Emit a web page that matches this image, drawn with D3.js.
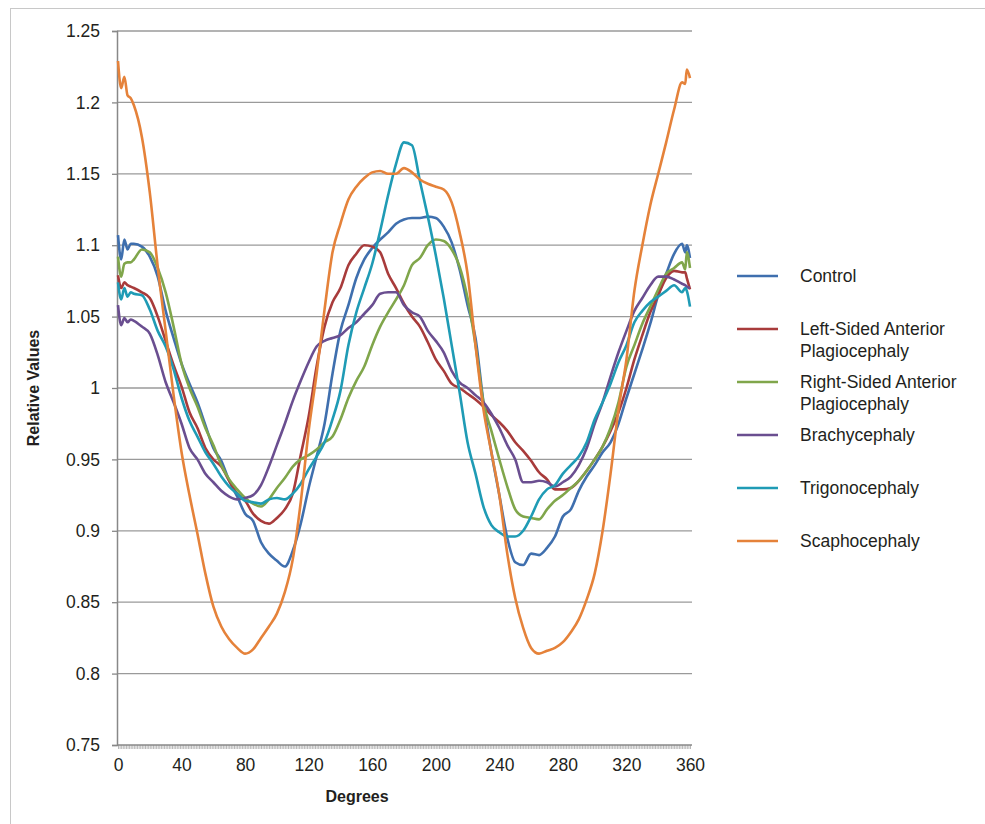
<!DOCTYPE html>
<html>
<head>
<meta charset="utf-8">
<script src="https://cdn.jsdelivr.net/npm/d3@7/dist/d3.min.js"></script>
<style>
  body { margin: 0; background: #fff; }
  svg { display: block; font-family: "Liberation Sans", Arial, sans-serif; }
</style>
</head>
<body>
<div class="svgGraphique"></div>
<script>
// angles (degrés) communs à toutes les séries
const degrees = [0, 2, 4, 6, 8, 10, 15, 20, 25, 30, 35, 40, 45, 50, 55, 60, 65, 70, 75, 80, 85, 90,
  95, 100, 105, 110, 115, 120, 125, 130, 135, 140, 145, 150, 155, 160, 165, 170, 175, 180,
  185, 190, 195, 200, 205, 210, 215, 220, 225, 230, 235, 240, 245, 250, 255, 260, 265, 270,
  275, 280, 285, 290, 295, 300, 305, 310, 315, 320, 325, 330, 335, 340, 345, 350, 355, 357, 358, 360];

const control = [1.107, 1.09, 1.104, 1.097, 1.101, 1.101, 1.099, 1.092, 1.078, 1.054, 1.035, 1.017, 1.003, 0.99, 0.974, 0.958, 0.949, 0.935, 0.924, 0.912, 0.907, 0.892,
  0.884, 0.879, 0.875, 0.886, 0.905, 0.93, 0.952, 0.975, 1.01, 1.04, 1.058, 1.077, 1.09, 1.098, 1.104, 1.109, 1.115, 1.118,
  1.119, 1.119, 1.12, 1.119, 1.113, 1.102, 1.083, 1.058, 1.035, 0.99, 0.955, 0.925, 0.895, 0.878, 0.876, 0.884, 0.883, 0.888,
  0.896, 0.91, 0.915, 0.928, 0.938, 0.946, 0.955, 0.962, 0.975, 0.993, 1.01, 1.027, 1.045, 1.065, 1.08, 1.094, 1.101, 1.095, 1.1, 1.091];

const leftSided = [1.079, 1.07, 1.074, 1.072, 1.071, 1.07, 1.067, 1.063, 1.05, 1.033, 1.016, 1.001, 0.983, 0.972, 0.958, 0.95, 0.945, 0.935, 0.926, 0.921, 0.912, 0.907,
  0.905, 0.909, 0.915, 0.926, 0.953, 0.98, 1.015, 1.043, 1.06, 1.07, 1.086, 1.094, 1.1, 1.099, 1.095, 1.08, 1.07, 1.059,
  1.05, 1.043, 1.032, 1.02, 1.012, 1.003, 1.0, 0.996, 0.992, 0.987, 0.981, 0.976, 0.97, 0.962, 0.956, 0.949, 0.941, 0.936,
  0.929, 0.929, 0.93, 0.935, 0.942, 0.95, 0.959, 0.97, 0.983, 1.0, 1.02, 1.037, 1.053, 1.065, 1.077, 1.082, 1.081, 1.081, 1.077, 1.069];

const rightSided = [1.092, 1.078, 1.087, 1.088, 1.088, 1.09, 1.097, 1.095, 1.084, 1.067, 1.043, 1.017, 1.0, 0.987, 0.972, 0.96, 0.946, 0.936, 0.929, 0.923, 0.919, 0.917,
  0.922, 0.93, 0.937, 0.945, 0.95, 0.953, 0.957, 0.962, 0.966, 0.978, 0.993, 1.005, 1.015, 1.03, 1.043, 1.053, 1.062, 1.072,
  1.086, 1.091, 1.1, 1.104, 1.103, 1.097, 1.085, 1.063, 1.03, 0.99, 0.97, 0.95, 0.931, 0.915, 0.91, 0.909, 0.908, 0.915,
  0.921, 0.925, 0.93, 0.935, 0.942, 0.95, 0.959, 0.972, 0.99, 1.015, 1.03, 1.045, 1.057, 1.069, 1.08, 1.084, 1.088, 1.083, 1.095, 1.084];

const brachy = [1.058, 1.044, 1.049, 1.046, 1.048, 1.047, 1.043, 1.038, 1.023, 1.004, 0.99, 0.975, 0.958, 0.95, 0.94, 0.934, 0.928, 0.924, 0.922, 0.923, 0.925, 0.932,
  0.945, 0.96, 0.975, 0.991, 1.005, 1.018, 1.029, 1.033, 1.035, 1.037, 1.042, 1.046, 1.052, 1.058, 1.066, 1.067, 1.067, 1.058,
  1.053, 1.05, 1.04, 1.033, 1.025, 1.012, 1.004, 1.0, 0.995, 0.99, 0.982, 0.972, 0.96, 0.95, 0.934, 0.934, 0.935, 0.934,
  0.931, 0.934, 0.938, 0.946, 0.958, 0.975, 0.99, 1.008, 1.025, 1.04, 1.054, 1.063, 1.072, 1.078, 1.078, 1.076, 1.073, 1.072, 1.071, 1.07];

const trigono = [1.074, 1.062, 1.07, 1.064, 1.067, 1.066, 1.065, 1.055, 1.04, 1.029, 1.013, 0.993, 0.977, 0.966, 0.955, 0.947, 0.938, 0.931, 0.926, 0.921, 0.92, 0.919,
  0.922, 0.923, 0.922, 0.926, 0.933, 0.943, 0.952, 0.962, 0.978, 0.998, 1.03, 1.053, 1.07, 1.087, 1.11, 1.135, 1.157, 1.172,
  1.17, 1.145, 1.12, 1.093, 1.063, 1.03, 0.997, 0.962, 0.94, 0.917, 0.904, 0.899, 0.896, 0.896, 0.9, 0.91, 0.922, 0.929,
  0.932, 0.94, 0.946, 0.952, 0.962, 0.978, 0.99, 1.003, 1.018, 1.03, 1.046, 1.054, 1.06, 1.064, 1.068, 1.072, 1.067, 1.07, 1.068, 1.057];

const scapho = [1.229, 1.21, 1.218, 1.205, 1.203, 1.198, 1.176, 1.137, 1.085, 1.04, 0.995, 0.955, 0.925, 0.898, 0.87, 0.847, 0.833, 0.824, 0.818, 0.814, 0.817, 0.825,
  0.833, 0.842, 0.857, 0.88, 0.92, 0.97, 1.01, 1.055, 1.095, 1.115, 1.132, 1.141, 1.147, 1.151, 1.152, 1.15, 1.15, 1.154,
  1.151, 1.146, 1.143, 1.141, 1.139, 1.13, 1.109, 1.08, 1.03, 0.985, 0.955, 0.925, 0.884, 0.853, 0.832, 0.818, 0.814, 0.816,
  0.818, 0.822, 0.829, 0.838, 0.852, 0.87, 0.9, 0.94, 0.985, 1.02, 1.068, 1.1, 1.128, 1.15, 1.172, 1.195, 1.214, 1.213, 1.223, 1.217];

const seriesNames = ["Control", "Left-Sided Anterior Plagiocephaly", "Right-Sided Anterior Plagiocephaly",
  "Brachycephaly", "Trigonocephaly", "Scaphocephaly"];
const seriesValues = [control, leftSided, rightSided, brachy, trigono, scapho];
const seriesColors = ["#3f6fae", "#a83b3b", "#80a64b", "#6a4e90", "#1f9bb5", "#e5823a"];

const yTicks = [0.75, 0.8, 0.85, 0.9, 0.95, 1, 1.05, 1.1, 1.15, 1.2, 1.25];
const xTicks = [0, 40, 80, 120, 160, 200, 240, 280, 320, 360];

const width = 985;
const height = 824;

const svg = d3.create('svg')
    .attr('width', width)
    .attr('height', height)
    .attr('viewBox', `0 0 ${width} ${height}`);

// cadre gris clair
svg.append('rect')
    .attr('x', 10.5).attr('y', 8.5)
    .attr('width', 1000).attr('height', 1000)
    .attr('fill', 'none')
    .attr('stroke', '#c8c8c8')
    .attr('stroke-width', 1);

const x = d3.scaleLinear().domain([0, 360]).range([118, 690]);
const y = d3.scaleLinear().domain([0.75, 1.25]).range([745, 31]);

// grille horizontale
svg.append('g')
    .selectAll('line')
    .data(yTicks.filter(d => d > 0.75))
    .join('line')
    .attr('x1', 117).attr('x2', 692)
    .attr('y1', d => y(d)).attr('y2', d => y(d))
    .attr('stroke', '#9a9a9a')
    .attr('stroke-width', 1.3);

// axe Y
const yAxis = d3.axisLeft(y)
    .tickValues(yTicks)
    .tickSize(5)
    .tickPadding(12)
    .tickFormat(d => d3.format('')(+d.toFixed(2)));

svg.append('g')
    .attr('transform', 'translate(117,0)')
    .call(yAxis)
    .call(g => g.select('.domain').attr('stroke', '#888').attr('stroke-width', 1.5))
    .call(g => g.selectAll('.tick line').attr('stroke', '#888').attr('stroke-width', 1.3))
    .call(g => g.selectAll('.tick text').attr('fill', '#231f20').style('font-size', '17.5px'));

// axe X : petites graduations à chaque degré
svg.append('g')
    .attr('transform', `translate(0,${y(0.75)})`)
    .call(d3.axisBottom(x).tickValues(d3.range(0, 361, 1)).tickSize(4).tickFormat(''))
    .call(g => g.select('.domain').remove())
    .call(g => g.selectAll('.tick line').attr('stroke', '#999').attr('stroke-width', 0.7));

svg.append('g')
    .attr('transform', `translate(0,${y(0.75)})`)
    .call(d3.axisBottom(x).tickValues(xTicks).tickSize(0).tickPadding(14).tickFormat(d3.format('d')))
    .call(g => g.select('.domain').attr('d', 'M117,0H692').attr('stroke', '#888').attr('stroke-width', 1.5))
    .call(g => g.selectAll('.tick text').attr('fill', '#231f20').style('font-size', '17.5px'));

// titres des axes
svg.append('text')
    .attr('x', 357).attr('y', 802)
    .attr('text-anchor', 'middle')
    .style('font-size', '16px').style('font-weight', 'bold')
    .attr('fill', '#231f20')
    .text('Degrees');

svg.append('text')
    .attr('transform', 'translate(39,388) rotate(-90)')
    .attr('text-anchor', 'middle')
    .style('font-size', '16px').style('font-weight', 'bold')
    .attr('fill', '#231f20')
    .text('Relative Values');

// courbes
const line = d3.line()
    .x((d, i) => x(degrees[i]))
    .y(d => y(d))
    .curve(d3.curveMonotoneX);

svg.append('g')
    .selectAll('path')
    .data(seriesValues)
    .join('path')
    .attr('d', d => line(d))
    .attr('fill', 'none')
    .attr('stroke', (d, i) => seriesColors[i])
    .attr('stroke-width', 2.6)
    .attr('stroke-linejoin', 'round');

// légende
const legendY = [276, 329, 382, 435, 488, 541];
const legendLines = [["Control"], ["Left-Sided Anterior", "Plagiocephaly"], ["Right-Sided Anterior", "Plagiocephaly"],
  ["Brachycephaly"], ["Trigonocephaly"], ["Scaphocephaly"]];

const legend = svg.append('g')
    .selectAll('g')
    .data(seriesNames)
    .join('g')
    .attr('transform', (d, i) => `translate(0,${legendY[i]})`);

legend.append('line')
    .attr('x1', 737).attr('x2', 778)
    .attr('stroke', (d, i) => seriesColors[i])
    .attr('stroke-width', 2.6);

legend.append('text')
    .attr('x', 800)
    .attr('fill', '#231f20')
    .style('font-size', '17.5px')
    .selectAll('tspan')
    .data((d, i) => legendLines[i])
    .join('tspan')
    .attr('x', 800)
    .attr('y', (d, j) => 6 + j * 22)
    .text(d => d);

document.querySelector('.svgGraphique').appendChild(svg.node());
</script>
</body>
</html>
